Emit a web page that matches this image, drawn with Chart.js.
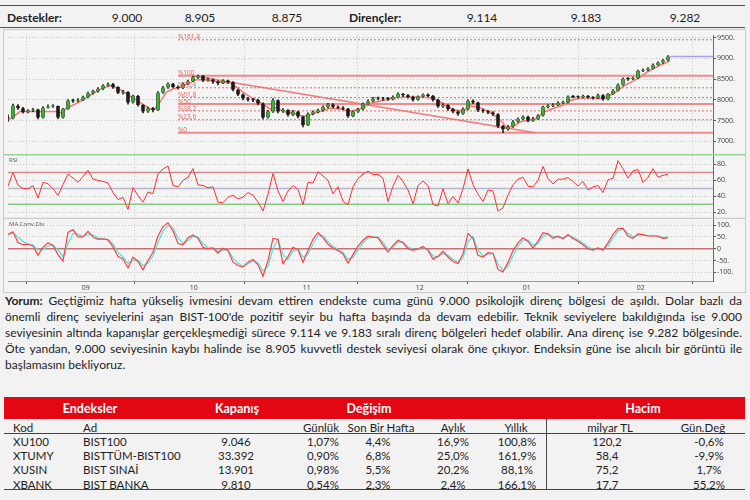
<!DOCTYPE html>
<html lang="tr">
<head>
<meta charset="utf-8">
<title>BIST-100 teknik görünüm</title>
<script src="https://cdn.jsdelivr.net/npm/chart.js@4.4.1/dist/chart.umd.min.js"></script>
<style>
  body { margin: 0; width: 750px; height: 500px; overflow: hidden; background: #f2f2f2;
         font-family: Lato, "Open Sans", sans-serif; color: #1e1e1e; position: relative; }
  .abs { position: absolute; white-space: nowrap; }
  .c { transform: translate(-50%, -50%); }
  .l { transform: translateY(-50%); }
  .seviye { position: absolute; left: 0; top: 5px; width: 745px; height: 21px;
            border-top: 1.5px solid #e4121c; border-bottom: 1.5px solid #e4121c; }
  .grafik { position: absolute; left: 3px; top: 29px; width: 741px; height: 262px;
            border: 1px solid #c9c9c9; background: #f4f4f4; }
  .yorum { position: absolute; left: 5px; top: 293px; width: 737px; font-size: 12px; line-height: 16px; }
  .yorum div { white-space: nowrap; }
  .bant { position: absolute; left: 4px; top: 397px; width: 741px; height: 22px; background: #e30613; }
  .cizgi { position: absolute; background: #444; }
  .tablo { font-size: 11.5px; }
  .bant-yazi { color: #fff; font-weight: 700; font-size: 12.5px; }
</style>
</head>
<body>

<div class="seviye" id="seviye"></div>

<div class="grafik"><canvas id="grafik" width="741" height="262"></canvas></div>

<div class="yorum" id="yorum"></div>

<div class="bant"></div>
<div class="cizgi" style="left:4px; top:433px; width:741px; height:1.3px"></div>
<div class="cizgi" style="left:4px; top:489px; width:741px; height:1.3px"></div>
<div class="cizgi" style="left:546px; top:419px; width:1.3px; height:71px"></div>
<div id="tablo" class="tablo"></div>

<script>
// ---- seviyeler (üst şerit) ----
const destekler = ['9.000', '8.905', '8.875'];
const direncler = ['9.114', '9.183', '9.282'];

// ---- fiyat verisi, grafikteki her mum ----
const kapanis = [
  7562, 7861, 7798, 7704, 7743, 7767, 7578, 7814, 7845, 7853,
  7578, 7782, 7987, 7971, 7995, 8065, 8160, 8215, 8270, 8348,
  8380, 8309, 8175, 8191, 7940, 8097, 7877, 7720, 7798, 7751,
  8175, 8301, 8388, 8309, 8285, 8388, 8451, 8545, 8580, 8466,
  8490, 8443, 8403, 8466, 8427, 8246, 8128, 8034, 8003, 8003,
  7916, 7578, 7720, 7995, 7720, 7759, 7641, 7720, 7602, 7390,
  7665, 7712, 7751, 7830, 7893, 7838, 7814, 7790, 7610, 7720,
  7775, 7908, 7971, 8034, 8034, 8034, 8018, 8073, 8144, 8113,
  8073, 8003, 8081, 8128, 8097, 8003, 7845, 7877, 7782, 7720,
  7665, 7782, 7979, 7940, 7751, 7728, 7696, 7657, 7366, 7295,
  7358, 7476, 7539, 7594, 7500, 7547, 7625, 7830, 7861, 7877,
  7932, 7940, 8081, 8073, 8065, 8097, 8065, 8050, 8113, 8018,
  8144, 8223, 8364, 8506, 8506, 8521, 8702, 8718, 8757, 8844,
  8899, 8954, 9046
];
const yuksek = [
  7640, 7900, 7890, 7820, 7770, 7800, 7780, 7840, 7880, 7890,
  7860, 7800, 8010, 8020, 8030, 8090, 8190, 8240, 8300, 8370,
  8410, 8400, 8320, 8230, 8200, 8120, 8110, 7890, 7830, 7820,
  8200, 8330, 8410, 8400, 8340, 8410, 8480, 8570, 8600, 8590,
  8530, 8510, 8460, 8490, 8480, 8440, 8260, 8150, 8060, 8040,
  8020, 7930, 7750, 8030, 8000, 7790, 7770, 7750, 7730, 7610,
  7690, 7740, 7780, 7860, 7920, 7910, 7860, 7840, 7800, 7740,
  7800, 7930, 8000, 8060, 8070, 8060, 8060, 8100, 8170, 8160,
  8130, 8090, 8100, 8150, 8150, 8110, 8020, 7910, 7890, 7800,
  7740, 7810, 8000, 8000, 7950, 7780, 7750, 7720, 7670, 7390,
  7390, 7500, 7570, 7620, 7610, 7580, 7650, 7850, 7890, 7910,
  7960, 7970, 8100, 8110, 8100, 8120, 8110, 8080, 8140, 8130,
  8160, 8250, 8390, 8530, 8540, 8550, 8720, 8750, 8780, 8870,
  8920, 8980, 9070
];
const dusuk = [
  7480, 7540, 7770, 7680, 7690, 7720, 7540, 7560, 7800, 7820,
  7550, 7560, 7770, 7940, 7950, 7980, 8050, 8140, 8190, 8250,
  8330, 8280, 8150, 8140, 7900, 7920, 7850, 7690, 7700, 7710,
  7740, 8160, 8280, 8290, 8260, 8270, 8370, 8440, 8520, 8440,
  8450, 8400, 8360, 8390, 8400, 8220, 8100, 8000, 7970, 7960,
  7880, 7540, 7560, 7700, 7690, 7700, 7610, 7620, 7570, 7350,
  7380, 7640, 7690, 7730, 7810, 7810, 7790, 7760, 7580, 7600,
  7700, 7760, 7890, 7950, 8000, 7990, 7990, 8000, 8060, 8080,
  8040, 7970, 7990, 8060, 8070, 7970, 7820, 7820, 7750, 7690,
  7630, 7650, 7760, 7910, 7720, 7700, 7670, 7620, 7330, 7210,
  7270, 7340, 7460, 7520, 7470, 7480, 7530, 7610, 7810, 7840,
  7860, 7910, 7920, 8050, 8040, 8050, 8040, 8020, 8030, 7990,
  8000, 8130, 8210, 8350, 8470, 8490, 8510, 8680, 8700, 8740,
  8830, 8880, 8940
];

// hareketli ortalama (kırmızı çizgi), okunan noktalar
const maX = [0, 2.4, 6.4, 9.7, 10.7, 11.7, 14.4, 16.4, 18.4, 20.4, 22.4, 24.4, 26.4, 28.4, 29.4,
  30.4, 31.7, 33.1, 34.4, 36.4, 37.7, 39.7, 42.4, 44.4, 45.7, 47.7, 50.4, 52.4, 53.7, 55.1,
  57.1, 59.1, 60.4, 62.4, 64.4, 66.4, 68.4, 70.4, 72.4, 75.1, 77.7, 80.4, 83.1, 85.1, 87.1,
  89.1, 91.1, 92.4, 94.4, 96.4, 98.4, 99.7, 101.1, 102.4, 104.4, 105.7, 107.1, 109.1, 111.1,
  112.4, 114.4, 116.4, 118.4, 119.7, 121.4, 123.1, 125.1, 126.4, 127.7, 129.1, 130.4, 131.7, 132.4];
const maY = [7500, 7720, 7720, 7720, 7690, 7800, 7960, 8113, 8254, 8348, 8254, 8097, 7940, 7782, 7782,
  7955, 8191, 8270, 8309, 8411, 8490, 8482, 8427, 8411, 8309, 8128, 7940, 7782, 7814, 7720,
  7680, 7602, 7641, 7720, 7798, 7782, 7720, 7782, 7916, 7995, 8050, 8073, 8073, 8034, 7916,
  7759, 7735, 7861, 7814, 7704, 7523, 7342, 7366, 7468, 7523, 7547, 7704, 7798, 7877,
  7987, 8042, 8050, 8034, 8065, 8175, 8333, 8458, 8545, 8663, 8757, 8836, 8899, 8946];

// RSI
const rsi = [
  52.8, 70, 54, 50, 49.6, 53.6, 38, 57.6, 56, 49.6,
  41.2, 54.8, 68, 63.2, 57.6, 64.8, 72.8, 61.6, 60, 58.8,
  56.8, 44.8, 36, 38.8, 23.6, 51.2, 40.8, 32.8, 45.6, 43.2,
  68, 74.4, 78, 53.6, 52, 60, 64, 74.8, 54.4, 53.6,
  50.8, 52, 32.8, 32, 38.8, 41.6, 36.8, 39.2, 44.8, 41.6,
  32.8, 21.6, 42.8, 68.8, 46.8, 33.6, 46.8, 53.6, 48.8, 29.6,
  57.6, 56.8, 70.8, 65.6, 60, 43.2, 52, 33.6, 29.6, 52,
  62.4, 68, 71.6, 67.2, 67.6, 62.8, 33.6, 52.8, 66.4, 58.8,
  48, 30.8, 53.6, 59.2, 53.6, 29.6, 28, 49.6, 30.8, 40,
  31.6, 49.6, 74.4, 54.8, 42.8, 33.6, 48, 46.8, 21.6, 25.6,
  41.6, 54.4, 61.6, 64, 52.8, 52, 60, 77.6, 62.4, 55.6,
  61.6, 61.6, 63.6, 58.8, 52.8, 58.8, 48, 52, 53.6, 44.8,
  60.8, 62.8, 84.8, 74.8, 62.8, 72, 73.6, 57.6, 64, 74.8,
  64, 66.4, 67.6
];

// MACD ve sinyal
const macd = [
  61, 72, 26, 17, 19, 12.5, -28, 6, 25, 14,
  -25, -53, 69, 81, 50, 50, 74, 50, 40, 42,
  37.5, 8, -33, -43, -81, -36, -54, -89, -50, -15,
  54, 94, 110, 75, 22, 17, 47, 58, 44, 6,
  -1, 3, -19, 1, -7, -57, -71, -78, -57, -46,
  -68, -117, -50, 44, 40, -64, -33, 6, -4, -57,
  -8, 40, 68, 47, 19, 3, -8, -22, -61, -25,
  11, 36, 53, 49, 47, 15, -14, 14, 36, 25,
  0, -7, -1, 10, -7, -44, -32, -11, -35, -54,
  -63, -22, 64, 44, -28, -35, -17, -19, -88, -99,
  -58, -8, 25, 46, 31, 3, 31, 68, 63, 44,
  53, 42, 60, 43, 32, 17, 0, -6, 3, -6,
  25, 61, 85, 86, 54, 44, 63, 60, 54, 54,
  53, 44, 47
];
const sinyal = [
  60, 66, 50, 30, 20, 15, -5, -5, 12, 15,
  -5, -35, 20, 65, 62, 52, 62, 58, 46, 42,
  39, 20, -15, -35, -62, -50, -48, -72, -62, -30,
  25, 75, 100, 88, 45, 22, 35, 52, 50, 22,
  4, 2, -10, -5, -5, -40, -62, -74, -65, -52,
  -60, -95, -75, 0, 38, -25, -45, -10, -2, -35,
  -22, 20, 55, 55, 30, 10, -3, -15, -45, -38,
  -5, 25, 45, 50, 48, 28, -2, 5, 28, 28,
  8, -3, -2, 5, -3, -30, -36, -20, -28, -45,
  -58, -38, 30, 52, -5, -30, -24, -20, -65, -92,
  -75, -30, 10, 36, 38, 15, 22, 52, 62, 52,
  50, 45, 54, 48, 38, 24, 8, -3, 0, -3,
  12, 45, 75, 84, 66, 50, 56, 59, 56, 55,
  54, 48, 48
];

// eksen etiketleri
const aySirasi = [14.4, 36, 58.6, 81.2, 102.6, 125.4];
const ayEtiket = ['09', '10', '11', '12', '01', '02'];
const fiyatTick = [7000, 7500, 8000, 8500, 9000, 9500];
const rsiTick = [20, 40, 60, 80];
const macdTick = [-100, -50, 0, 50, 100];

// fibonacci seviyeleri
const fibAd = ['%0', '%23.6', '%38.2', '%50', '%61.8', '%76.4', '%100', '%161.8'];
const fibDeger = [7209, 7524, 7736, 7901, 8057, 8293, 8584, 9449];
const fibDuz = [true, false, false, true, false, false, true, false];
const fibBas = 34;
const trendX = [36.8, 105.4];
const trendY = [8584, 7209];
const sonKapanis = 9046;
const rsiSeviye = [70, 50, 30];
const rsiRenk = ['#c98b8b', '#b4b6cc', '#86c886'];

// ---- üst şerit ----
const seviye = document.getElementById('seviye');
function yaz(parent, html, x, y, cls, extra) {
  const s = document.createElement('span');
  s.className = 'abs ' + cls;
  s.style.left = x + 'px';
  s.style.top = y + 'px';
  if (extra) s.style.cssText += extra;
  s.innerHTML = html;
  parent.appendChild(s);
  return s;
}
yaz(seviye, '<b>Destekler:</b>', 7, 10.5, 'l', 'font-size:12px');
yaz(seviye, '<b>Dirençler:</b>', 349, 10.5, 'l', 'font-size:12px');
[127, 200, 287].forEach((x, i) => yaz(seviye, destekler[i], x, 10.5, 'c', 'font-size:12px'));
[482, 586, 685].forEach((x, i) => yaz(seviye, direncler[i], x, 10.5, 'c', 'font-size:12px'));

// ---- yorum paragrafı ----
const satirlar = [
  '<b>Yorum:</b> Geçtiğimiz hafta yükseliş ivmesini devam ettiren endekste cuma günü 9.000 psikolojik direnç bölgesi de aşıldı. Dolar bazlı da',
  'önemli direnç seviyelerini aşan BIST-100\'de pozitif seyir bu hafta başında da devam edebilir. Teknik seviyelere bakıldığında ise 9.000',
  'seviyesinin altında kapanışlar gerçekleşmediği sürece 9.114 ve 9.183 sıralı direnç bölgeleri hedef olabilir. Ana direnç ise 9.282 bölgesinde.',
  'Öte yandan, 9.000 seviyesinin kaybı halinde ise 8.905 kuvvetli destek seviyesi olarak öne çıkıyor. Endeksin güne ise alıcılı bir görüntü ile',
  'başlamasını bekliyoruz.'
];
const yorum = document.getElementById('yorum');
satirlar.forEach((t, i) => {
  const d = document.createElement('div');
  const s = document.createElement('span');
  s.innerHTML = t;
  d.appendChild(s);
  yorum.appendChild(d);
  if (i < satirlar.length - 1) {
    // satırı iki yana yasla
    const bosluk = (s.textContent.match(/ /g) || []).length;
    const fark = 737 - s.getBoundingClientRect().width;
    s.style.wordSpacing = (fark / bosluk) + 'px';
  }
});

// ---- tablo ----
const kodlar = ['XU100', 'XTUMY', 'XUSIN', 'XBANK'];
const adlar = ['BIST100', 'BISTTÜM-BIST100', 'BIST SINAİ', 'BIST BANKA'];
const kapanislar = ['9.046', '33.392', '13.901', '9.810'];
const gunluk = ['1,07%', '0,90%', '0,98%', '0,54%'];
const haftalik = ['4,4%', '6,8%', '5,5%', '2,3%'];
const aylik = ['16,9%', '25,0%', '20,2%', '2,4%'];
const yillik = ['100,8%', '161,9%', '88,1%', '166,1%'];
const hacim = ['120,2', '58,4', '75,2', '17,7'];
const hacimDeg = ['-0,6%', '-9,9%', '1,7%', '55,2%'];

const tablo = document.getElementById('tablo');
[['Endeksler', 90], ['Kapanış', 237], ['Değişim', 369], ['Hacim', 643]].forEach(h =>
  yaz(tablo, h[0], h[1], 408, 'c bant-yazi'));
[['Kod', 13, 'l'], ['Ad', 83, 'l'], ['Günlük', 321, 'c'], ['Son Bir Hafta', 381, 'c'], ['Aylık', 453, 'c'],
 ['Yıllık', 516, 'c'], ['milyar TL', 610, 'c'], ['Gün.Değ', 703, 'c']].forEach(h =>
  yaz(tablo, h[0], h[1], 426.5, h[2]));
const kolonlar = [[kodlar, 13, 'l'], [adlar, 83, 'l'], [kapanislar, 236, 'c'], [gunluk, 323, 'c'],
  [haftalik, 378, 'c'], [aylik, 453, 'c'], [yillik, 517, 'c'], [hacim, 607, 'c'], [hacimDeg, 709, 'c']];
kolonlar.forEach(k => k[0].forEach((v, r) => yaz(tablo, v, k[1], 441 + r * 14.2, k[2])));

// ---- grafik ----
const yesil = '#35b535', siyah = '#1a1a1a';
const govde = kapanis.map((c, i) => ({ x: i, y: [i ? kapanis[i - 1] : c, c] }));
const govdeRenk = kapanis.map((c, i) => (i && c > kapanis[i - 1]) ? yesil : siyah);
const fitil = kapanis.map((c, i) => ({ x: i, y: [dusuk[i], yuksek[i]] }));

const cizgi = (data, renk, kalinlik, eksen, ekstra) => Object.assign({
  type: 'line', data: data, borderColor: renk, borderWidth: kalinlik,
  pointRadius: 0, tension: 0, yAxisID: eksen, order: 5
}, ekstra || {});

const datasets = [];
fibDeger.forEach((v, k) => datasets.push(cizgi(
  [{ x: fibBas, y: v }, { x: 141, y: v }],
  fibDuz[k] ? 'rgba(238,120,120,0.85)' : '#e66a6a',
  fibDuz[k] ? 2 : 1, 'yP',
  { borderDash: fibDuz[k] ? [] : [2, 2], order: 10 })));
datasets.push(cizgi(trendX.map((x, k) => ({ x: x, y: trendY[k] })), 'rgba(238,110,110,0.9)', 1.5, 'yP', { order: 9 }));
datasets.push(cizgi(maX.map((x, k) => ({ x: x, y: maY[k] })), '#ff7474', 1.5, 'yP', { order: 7 }));
datasets.push({
  type: 'bar', data: fitil, backgroundColor: '#222', borderWidth: 0,
  barThickness: 1, grouped: false, yAxisID: 'yP', order: 6
});
datasets.push({
  type: 'bar', data: govde, backgroundColor: govdeRenk, borderColor: '#1a1a1a',
  borderWidth: { left: 0.5, right: 0.5, top: 0, bottom: 0 },
  barThickness: 3, grouped: false, minBarLength: 1, yAxisID: 'yP', order: 4
});
datasets.push(cizgi([{ x: kapanis.length - 0.6, y: sonKapanis }, { x: 141, y: sonKapanis }], '#a2a4ea', 1.5, 'yP', { order: 3 }));

rsiSeviye.forEach((v, k) => datasets.push(cizgi([{ x: 0, y: v }, { x: 141, y: v }], rsiRenk[k], 1.5, 'yR', { order: 8 })));
datasets.push(cizgi(rsi.map((v, i) => ({ x: i, y: v })), '#ff2f2f', 1, 'yR', { order: 2 }));

datasets.push(cizgi([{ x: 0, y: 0 }, { x: 141, y: 0 }], '#c87272', 1.5, 'yM', { order: 8 }));
datasets.push(cizgi(sinyal.map((v, i) => ({ x: i, y: v })), '#4fe3e3', 1.2, 'yM', { order: 3 }));
datasets.push(cizgi(macd.map((v, i) => ({ x: i, y: v })), '#ff4040', 1.2, 'yM', { order: 2 }));

const yaziTick = { size: 7, family: 'Open Sans' };
const yEksen = (min, max, tickler, agirlik, sira) => ({
  type: 'linear', position: 'right', stack: 'panel', stackWeight: agirlik, weight: sira,
  min: min, max: max,
  afterBuildTicks: a => { a.ticks = tickler.map(v => ({ value: v })); },
  afterFit: a => { a.width = 32; },
  ticks: { font: yaziTick, color: '#3a3a3a', padding: 1, autoSkip: false,
           callback: v => v === 0 ? '0' : v + '.' },
  grid: { color: '#c4c4c4', tickColor: '#555', tickLength: 3 },
  border: { display: true, color: '#6a6a6a', dash: [1, 2] }
});

const panelCizim = {
  id: 'panelCizim',
  afterDatasetsDraw(chart) {
    const c = chart.ctx, ca = chart.chartArea;
    const { x, yP, yR, yM } = chart.scales;
    c.save();
    c.lineWidth = 1.5;
    c.strokeStyle = '#9ad29a';
    c.beginPath(); c.moveTo(0, yP.bottom); c.lineTo(chart.width, yP.bottom); c.stroke();
    c.lineWidth = 1;
    c.strokeStyle = '#c2c2c2';
    c.beginPath(); c.moveTo(0, yR.bottom); c.lineTo(chart.width, yR.bottom); c.stroke();
    c.fillStyle = '#555';
    c.font = '6px "Open Sans"';
    c.textBaseline = 'top';
    c.fillText('RSI', ca.left + 1, yR.top + 3);
    c.fillText('MA.Conv.Div', ca.left + 1, yM.top + 3);
    c.fillStyle = '#e86060';
    c.font = '6.5px "Open Sans"';
    c.textBaseline = 'bottom';
    fibDeger.forEach((v, k) => c.fillText(fibAd[k], x.getPixelForValue(fibBas), yP.getPixelForValue(v) + 1));
    c.restore();
  }
};

new Chart(document.getElementById('grafik'), {
  type: 'line',
  data: { datasets: datasets },
  options: {
    responsive: false,
    animation: false,
    layout: { padding: { left: 4, right: 0, top: 0, bottom: 0 } },
    plugins: { legend: { display: false }, tooltip: { enabled: false } },
    scales: {
      x: {
        type: 'linear', min: 0, max: 141, offset: false,
        afterBuildTicks: a => { a.ticks = aySirasi.map(v => ({ value: v })); },
        afterFit: a => { a.height = 11; },
        ticks: { font: yaziTick, color: '#3a3a3a', align: 'start', padding: 0, maxRotation: 0, autoSkip: false,
                 callback: (v, i) => ' ' + ayEtiket[i] },
        grid: { color: '#c4c4c4', tickColor: '#555', tickLength: 3 },
        border: { display: true, color: '#9a9a9a', dash: [1, 2] }
      },
      yP: yEksen(6682, 9559, fiyatTick, 122, 1),
      yR: yEksen(12.5, 92.3, rsiTick, 65, 2),
      yM: yEksen(-137, 129, macdTick, 64, 3)
    }
  },
  plugins: [panelCizim]
});
</script>
</body>
</html>
